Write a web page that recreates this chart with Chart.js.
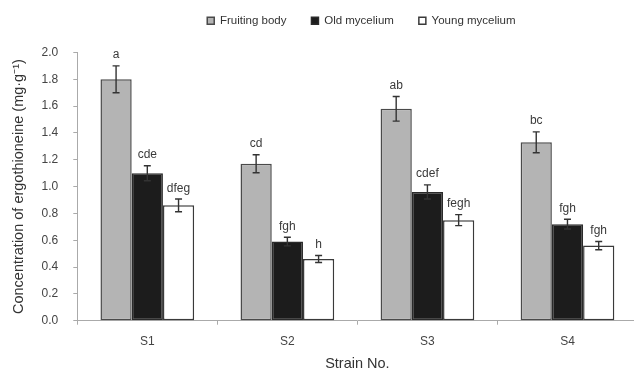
<!DOCTYPE html>
<html><head><meta charset="utf-8">
<style>
html,body{margin:0;padding:0;overflow:hidden;background:#fff;}
canvas{display:block;}
</style>
<script src="https://cdn.jsdelivr.net/npm/chart.js@4.4.1/dist/chart.umd.min.js"></script>
</head><body>
<canvas id="c" width="640" height="373"></canvas>
<script>
const categories = ['S1', 'S2', 'S3', 'S4'];
const seriesNames = ['Fruiting body', 'Old mycelium', 'Young mycelium'];
const fruitingBody = [1.80, 1.17, 1.58, 1.33];
const oldMycelium = [1.10, 0.59, 0.96, 0.72];
const youngMycelium = [0.86, 0.46, 0.75, 0.56];
const fruitingErr = [0.100, 0.067, 0.092, 0.078];
const oldErr = [0.056, 0.032, 0.053, 0.036];
const youngErr = [0.047, 0.026, 0.041, 0.031];
const fruitingLetters = ['a', 'cd', 'ab', 'bc'];
const oldLetters = ['cde', 'fgh', 'cdef', 'fgh'];
const youngLetters = ['dfeg', 'h', 'fegh', 'fgh'];
const yTicks = [0.0, 0.2, 0.4, 0.6, 0.8, 1.0, 1.2, 1.4, 1.6, 1.8, 2.0];
const yTitle = 'Concentration of ergothioneine (mg\u00B7g\u207B\u00B9)';
const xTitle = 'Strain No.';

const FONT = '"Liberation Sans", Arial, Helvetica, sans-serif';
Chart.defaults.font.family = FONT;

const errorBarPlugin = {
  id: 'errorBars',
  afterLayout(chart) {
    if (chart.legend) { chart.legend.left += 4; chart.legend.right += 4; }
  },
  afterDatasetsDraw(chart) {
    const ctx = chart.ctx;
    const y = chart.scales.y;
    chart.data.datasets.forEach((ds, di) => {
      const meta = chart.getDatasetMeta(di);
      meta.data.forEach((bar, i) => {
        const v = ds.data[i], e = ds.errors[i];
        const yt = y.getPixelForValue(v + e), yb = y.getPixelForValue(v - e);
        ctx.save();
        ctx.strokeStyle = '#333';
        ctx.lineWidth = 1.4;
        ctx.beginPath();
        ctx.moveTo(bar.x, yt); ctx.lineTo(bar.x, yb);
        ctx.moveTo(bar.x - 3.5, yt); ctx.lineTo(bar.x + 3.5, yt);
        ctx.moveTo(bar.x - 3.5, yb); ctx.lineTo(bar.x + 3.5, yb);
        ctx.stroke();
        ctx.fillStyle = '#3a3a3a';
        ctx.font = '12px ' + FONT;
        ctx.textAlign = 'center';
        ctx.textBaseline = 'alphabetic';
        ctx.fillText(ds.letters[i], bar.x, yt - 7.5);
        ctx.restore();
      });
    });
  }
};

new Chart(document.getElementById('c'), {
  type: 'bar',
  data: {
    labels: categories,
    datasets: [
      { label: seriesNames[0], data: fruitingBody, errors: fruitingErr, letters: fruitingLetters,
        backgroundColor: '#b4b4b4', borderColor: '#4a4a4a', borderWidth: 1.5, borderSkipped: false },
      { label: seriesNames[1], data: oldMycelium, errors: oldErr, letters: oldLetters,
        backgroundColor: '#1c1c1c', borderColor: '#2a2a2a', borderWidth: 1.5, borderSkipped: false },
      { label: seriesNames[2], data: youngMycelium, errors: youngErr, letters: youngLetters,
        backgroundColor: '#ffffff', borderColor: '#3a3a3a', borderWidth: 1.5, borderSkipped: false }
    ]
  },
  options: {
    responsive: false,
    animation: false,
    devicePixelRatio: 1,
    categoryPercentage: 0.669,
    barPercentage: 1.0,
    layout: { padding: { top: -10, left: 0, right: 2.5, bottom: 0 } },
    plugins: {
      tooltip: { enabled: false },
      legend: {
        position: 'top', fullSize: false,
        labels: { boxWidth: 7, boxHeight: 7, padding: 25, color: '#333', font: { size: 11.5 } }
      },
      subtitle: { display: true, text: '', weight: 500, font: { size: 1 }, padding: { top: 0, bottom: 14.8 } }
    },
    scales: {
      x: {
        grid: { display: true, drawOnChartArea: false, drawTicks: true, tickLength: 4, color: '#aaa', offset: true },
        border: { color: '#aaa', width: 1 },
        ticks: { color: '#444', font: { size: 12 }, padding: 10 },
        title: { display: true, text: xTitle, color: '#333', font: { size: 14.5 }, padding: { top: -3.5, bottom: 0 } }
      },
      y: {
        min: 0, max: 2.0,
        afterBuildTicks: s => { s.ticks = yTicks.map(v => ({ value: v })); },
        grid: { display: true, drawOnChartArea: false, drawTicks: true, tickLength: 4, color: '#aaa' },
        border: { color: '#aaa', width: 1 },
        ticks: { color: '#444', font: { size: 12 }, padding: 15, callback: v => Number(v).toFixed(1) },
        title: { display: true, text: yTitle, color: '#333', font: { size: 14.5 }, padding: { top: 10, bottom: -0.8 } }
      }
    }
  },
  plugins: [errorBarPlugin]
});
</script>
</body></html>
